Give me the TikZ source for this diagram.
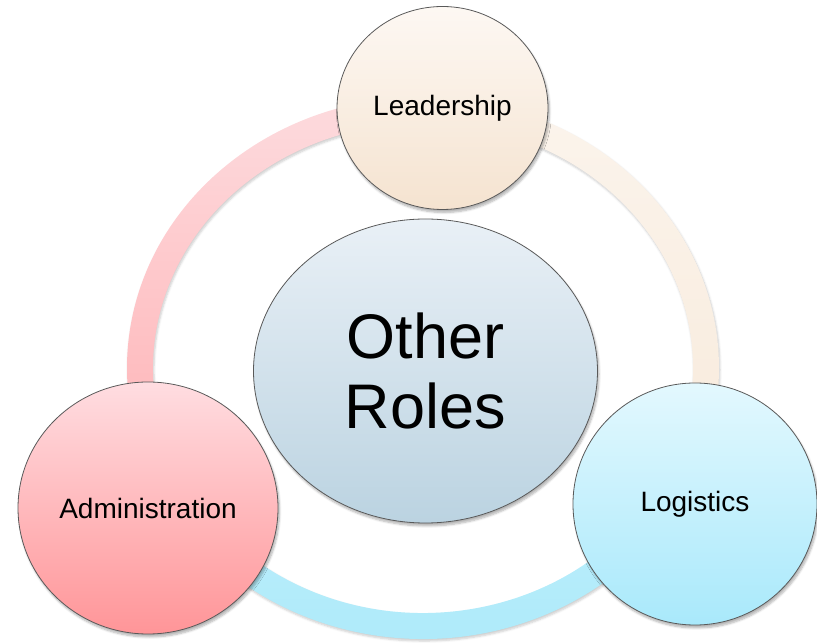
\documentclass[tikz,border=0pt]{standalone}
\usepackage{fontspec}
\setmainfont{Liberation Sans}
\usetikzlibrary{shapes.geometric,shadows.blur}

\definecolor{leadtop}{HTML}{FDF8F3}
\definecolor{leadbot}{HTML}{F5E3D0}
\definecolor{roletop}{HTML}{E9F0F6}
\definecolor{rolebot}{HTML}{BBD3E1}
\definecolor{admintop}{HTML}{FFDDE1}
\definecolor{adminbot}{HTML}{FF9598}
\definecolor{logitop}{HTML}{E3F8FE}
\definecolor{logibot}{HTML}{A9E9FB}
\definecolor{pinktop}{HTML}{FDDCDF}
\definecolor{pinkbot}{HTML}{FFB0B3}
\definecolor{beigetop}{HTML}{FBF4EC}
\definecolor{beigebot}{HTML}{F8EADB}
\definecolor{bluetop}{HTML}{BDEFFB}
\definecolor{bluebot}{HTML}{ABE9FA}

\tikzset{
  role/.style={ellipse, draw=black!65, line width=0.8pt, inner sep=0pt,
    font=\fontsize{28}{34}\selectfont,
    blur shadow={shadow xshift=1.5pt, shadow yshift=-3pt, shadow blur steps=6, shadow opacity=30}},
  band/.style={blur shadow={shadow xshift=1pt, shadow yshift=-2pt, shadow blur steps=5, shadow opacity=20}}
}

\begin{document}
\begin{tikzpicture}[x=1pt,y=1pt]
\useasboundingbox (0,0) rectangle (817,643);
\coordinate (ring) at (423,275);
% ring between the roles
\foreach \a/\b/\ct/\cb in {-29/86/beigetop/beigebot, 86/209/pinktop/pinkbot, 209/331/bluetop/bluebot}
\path[band, top color=\ct, bottom color=\cb]
  ([shift={(\a:296pt and 271pt)}]ring) arc[start angle=\a, end angle=\b, x radius=296pt, y radius=271pt]
  -- ([shift={(\b:270pt and 245pt)}]ring) arc[start angle=\b, end angle=\a, x radius=270pt, y radius=245pt] -- cycle;
\node[role, minimum width=344pt, minimum height=304pt, top color=roletop, bottom color=rolebot,
  font=\fontsize{63}{70}\selectfont, align=center] (roles) at (425.5,272) {Other\\Roles};
\node[role, minimum width=211pt, minimum height=203pt, top color=leadtop, bottom color=leadbot] (lead) at (442.5,535) {Leadership};
\node[role, minimum width=260pt, minimum height=252pt, top color=admintop, bottom color=adminbot] (admin) at (148,135) {Administration};
\node[role, minimum width=244pt, minimum height=242pt, top color=logitop, bottom color=logibot] (logi) at (695,139) {Logistics};
\end{tikzpicture}
\end{document}
